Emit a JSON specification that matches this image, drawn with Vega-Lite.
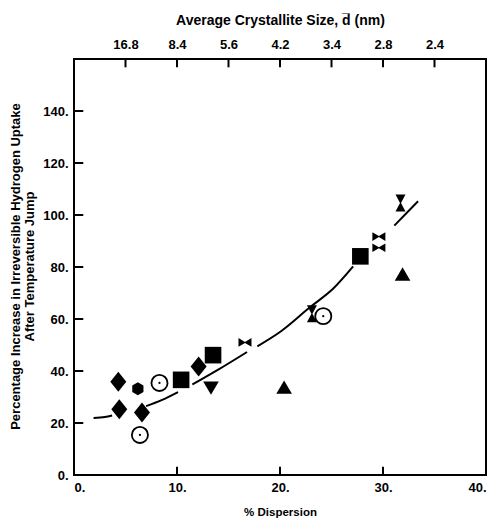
{
  "$schema": "https://vega.github.io/schema/vega-lite/v6.json",
  "width": 412,
  "height": 416,
  "autosize": "none",
  "padding": {"left": 74, "top": 59, "right": 14, "bottom": 47},
  "background": "white",
  "config": {
    "view": {"stroke": "black", "strokeWidth": 2},
    "font": "Liberation Sans",
    "axis": {
      "domain": false,
      "ticks": false,
      "grid": false,
      "labelColor": "black",
      "labelFont": "Liberation Sans",
      "labelFontWeight": "bold",
      "labelFontSize": 13,
      "titleColor": "black",
      "titleFont": "Liberation Sans",
      "titleFontWeight": "bold",
      "titleFontSize": 12.5
    }
  },
  "datasets": {
    "points": [
      {"x": 4.3, "y": 35.9, "shape": "diamond"},
      {"x": 4.4, "y": 25.3, "shape": "diamond"},
      {"x": 6.6, "y": 24.0, "shape": "diamond"},
      {"x": 12.1, "y": 41.7, "shape": "diamond"},
      {"x": 6.2, "y": 33.2, "shape": "hexagon"},
      {"x": 10.4, "y": 36.6, "shape": "square"},
      {"x": 13.5, "y": 46.1, "shape": "square"},
      {"x": 27.8, "y": 84.1, "shape": "square"},
      {"x": 13.3, "y": 33.4, "shape": "triangle-down"},
      {"x": 20.4, "y": 33.8, "shape": "triangle-up"},
      {"x": 31.9, "y": 77.3, "shape": "triangle-up"},
      {"x": 16.6, "y": 51.0, "shape": "bowtie"},
      {"x": 29.6, "y": 91.7, "shape": "bowtie"},
      {"x": 29.6, "y": 87.4, "shape": "bowtie"},
      {"x": 31.7, "y": 104.6, "shape": "hourglass"},
      {"x": 23.1, "y": 62.0, "shape": "hourglass"}
    ],
    "circles": [
      {"x": 8.3, "y": 35.4},
      {"x": 6.4, "y": 15.4},
      {"x": 24.2, "y": 61.1}
    ],
    "curve": [
      {"seg": 1, "x": 1.9, "y": 21.9},
      {"seg": 1, "x": 3.0, "y": 22.3},
      {"seg": 1, "x": 3.7, "y": 22.9},
      {"seg": 2, "x": 7.0, "y": 26.5},
      {"seg": 2, "x": 8.5, "y": 28.8},
      {"seg": 2, "x": 10.1, "y": 31.9},
      {"seg": 3, "x": 11.5, "y": 34.8},
      {"seg": 3, "x": 14.0, "y": 40.5},
      {"seg": 3, "x": 16.8, "y": 47.3},
      {"seg": 4, "x": 17.8, "y": 49.5},
      {"seg": 4, "x": 20.1, "y": 55.3},
      {"seg": 4, "x": 22.9, "y": 64.5},
      {"seg": 4, "x": 25.2, "y": 71.8},
      {"seg": 4, "x": 27.1, "y": 80.2},
      {"seg": 5, "x": 31.1, "y": 95.9},
      {"seg": 5, "x": 33.4, "y": 105.3}
    ],
    "bottomTicks": [{"v": 10}, {"v": 20}, {"v": 30}],
    "topTicks": [{"v": 5}, {"v": 10}, {"v": 15}, {"v": 20}, {"v": 25}, {"v": 30}, {"v": 35}],
    "leftTicks": [{"v": 20}, {"v": 40}, {"v": 60}, {"v": 80}, {"v": 100}, {"v": 120}, {"v": 140}]
  },
  "layer": [
    {
      "data": {"name": "curve"},
      "mark": {"type": "line", "color": "black", "strokeWidth": 2, "interpolate": "monotone"},
      "encoding": {
        "x": {
          "field": "x", "type": "quantitative",
          "scale": {"domain": [0, 40], "nice": false, "zero": false},
          "axis": {
            "orient": "bottom",
            "values": [0, 10, 20, 30, 40],
            "labelExpr": "datum.label + '.'",
            "labelPadding": 6,
            "title": "% Dispersion",
            "titleFontSize": 11.5,
            "titlePadding": 12
          }
        },
        "y": {
          "field": "y", "type": "quantitative",
          "scale": {"domain": [0, 160], "nice": false, "zero": false},
          "axis": {
            "orient": "left",
            "values": [0, 20, 40, 60, 80, 100, 120, 140],
            "labelExpr": "datum.label + '.'",
            "labelPadding": 6,
            "title": ["Percentage Increase in Irreversible Hydrogen Uptake", "After Temperature Jump"],
            "titleFontSize": 13,
            "titleLineHeight": 14,
            "titleAnchor": "middle",
            "titleAlign": "center",
            "titleY": 207,
            "titlePadding": 6
          }
        },
        "detail": {"field": "seg", "type": "nominal"}
      }
    },
    {
      "data": {"name": "points"},
      "mark": {"type": "point", "filled": true, "opacity": 1, "color": "black", "strokeWidth": 0, "size": 400},
      "encoding": {
        "x": {
          "field": "x", "type": "quantitative",
          "axis": {
            "orient": "top",
            "values": [5, 10, 15, 20, 25, 30, 35],
            "labelExpr": "format(84 / datum.value, '.1f')",
            "labelPadding": 8,
            "title": "Average Crystallite Size, d\u0305 (nm)",
            "titleFontSize": 14,
            "titlePadding": 11
          }
        },
        "y": {"field": "y", "type": "quantitative", "axis": null},
        "shape": {
          "field": "shape", "type": "nominal", "legend": null,
          "scale": {
            "domain": ["diamond", "hexagon", "square", "triangle-down", "triangle-up", "bowtie", "hourglass"],
            "range": [
              "M0,-1L0.8,0L0,1L-0.8,0Z",
              "M0,-0.65L0.56,-0.33L0.56,0.33L0,0.65L-0.56,0.33L-0.56,-0.33Z",
              "M-0.83,-0.83L0.83,-0.83L0.83,0.83L-0.83,0.83Z",
              "M-0.78,-0.67L0.78,-0.67L0,0.67Z",
              "M0,-0.67L0.78,0.67L-0.78,0.67Z",
              "M-0.65,-0.43L0,-0.05L0.65,-0.43L0.65,0.43L0,0.05L-0.65,0.43Z",
              "M-0.5,-0.85L0.5,-0.85L0.05,0L0.5,0.85L-0.5,0.85L-0.05,0Z"
            ]
          }
        }
      }
    },
    {
      "data": {"name": "circles"},
      "mark": {"type": "point", "shape": "circle", "filled": false, "color": "black", "strokeWidth": 1.8, "size": 260, "opacity": 1},
      "encoding": {
        "x": {"field": "x", "type": "quantitative", "axis": null},
        "y": {"field": "y", "type": "quantitative", "axis": null}
      }
    },
    {
      "data": {"name": "circles"},
      "mark": {"type": "point", "shape": "circle", "filled": true, "color": "black", "size": 5, "opacity": 1},
      "encoding": {
        "x": {"field": "x", "type": "quantitative", "axis": null},
        "y": {"field": "y", "type": "quantitative", "axis": null}
      }
    },
    {
      "data": {"name": "bottomTicks"},
      "mark": {"type": "rule", "color": "black", "strokeWidth": 2},
      "encoding": {
        "x": {"field": "v", "type": "quantitative", "axis": null},
        "y": {"datum": 0, "type": "quantitative", "axis": null},
        "y2": {"datum": 3.2}
      }
    },
    {
      "data": {"name": "topTicks"},
      "mark": {"type": "rule", "color": "black", "strokeWidth": 2},
      "encoding": {
        "x": {"field": "v", "type": "quantitative", "axis": null},
        "y": {"datum": 160, "type": "quantitative", "axis": null},
        "y2": {"datum": 156.8}
      }
    },
    {
      "data": {"name": "leftTicks"},
      "mark": {"type": "rule", "color": "black", "strokeWidth": 2},
      "encoding": {
        "y": {"field": "v", "type": "quantitative", "axis": null},
        "x": {"datum": 0, "type": "quantitative", "axis": null},
        "x2": {"datum": 0.9}
      }
    }
  ],
  "resolve": {"axis": {"x": "independent", "y": "independent"}}
}
